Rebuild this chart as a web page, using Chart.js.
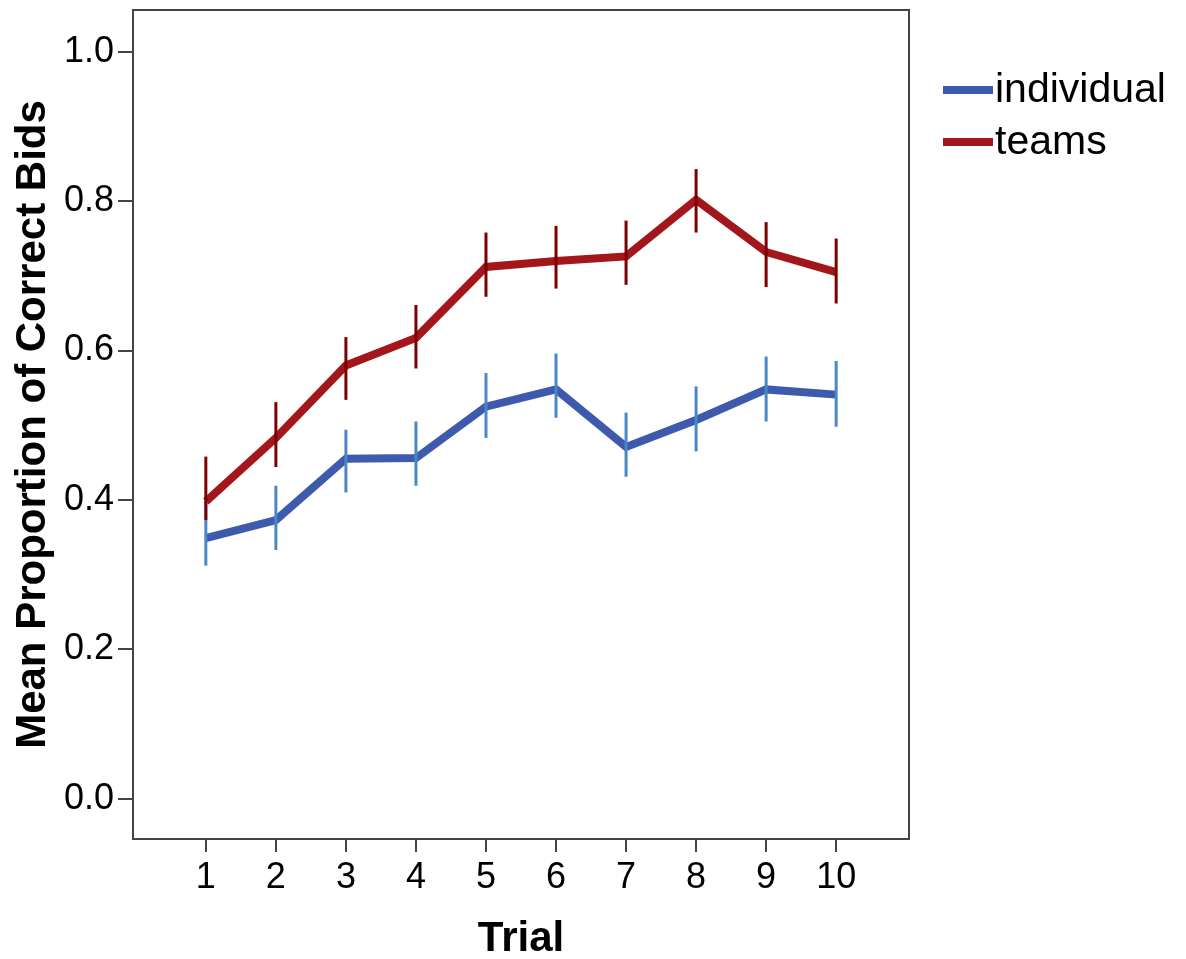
<!DOCTYPE html>
<html lang="en">
<head>
    <meta charset="UTF-8">
    <title>Mean Proportion of Correct Bids by Trial</title>
    <script src="https://cdn.jsdelivr.net/npm/chart.js"></script>
    <style>
        body {
            margin: 0;
            padding: 0;
            background-color: #ffffff;
        }
        #wrap {
            width: 1186px;
            height: 959px;
        }
    </style>
</head>
<body>
    <div id="wrap">
        <canvas id="bidsChart" width="1186" height="959"></canvas>
    </div>

    <script>
        // Data
        const trials = [1, 2, 3, 4, 5, 6, 7, 8, 9, 10];
        const yTicks = [0.0, 0.2, 0.4, 0.6, 0.8, 1.0];

        const individualMean = [0.349, 0.373, 0.455, 0.456, 0.525, 0.548, 0.471, 0.507, 0.548, 0.541];
        const individualLow  = [0.312, 0.333, 0.410, 0.419, 0.483, 0.510, 0.431, 0.465, 0.505, 0.498];
        const individualHigh = [0.398, 0.419, 0.494, 0.505, 0.570, 0.596, 0.517, 0.552, 0.592, 0.586];

        const teamsMean = [0.398, 0.483, 0.580, 0.617, 0.712, 0.720, 0.726, 0.802, 0.732, 0.705];
        const teamsLow  = [0.373, 0.444, 0.534, 0.576, 0.672, 0.683, 0.688, 0.758, 0.685, 0.663];
        const teamsHigh = [0.458, 0.531, 0.618, 0.661, 0.758, 0.767, 0.774, 0.843, 0.772, 0.750];

        const FONT = "'Liberation Sans', Arial, sans-serif";

        // error bars drawn on top of the lines
        const errorBars = {
            id: 'errorBars',
            afterDatasetsDraw(chart) {
                const ctx = chart.ctx;
                const xs = chart.scales.x;
                const ys = chart.scales.y;
                chart.data.datasets.forEach(ds => {
                    ctx.save();
                    ctx.strokeStyle = ds.errorColor;
                    ctx.lineWidth = 3;
                    trials.forEach((t, i) => {
                        const x = xs.getPixelForValue(t);
                        ctx.beginPath();
                        ctx.moveTo(x, ys.getPixelForValue(ds.low[i]));
                        ctx.lineTo(x, ys.getPixelForValue(ds.high[i]));
                        ctx.stroke();
                    });
                    ctx.restore();
                });
            }
        };

        // box round the plot area
        const frame = {
            id: 'frame',
            afterDraw(chart) {
                const a = chart.chartArea;
                const ctx = chart.ctx;
                ctx.save();
                ctx.strokeStyle = '#444444';
                ctx.lineWidth = 2;
                ctx.strokeRect(a.left, a.top, a.right - a.left, a.bottom - a.top);
                ctx.restore();
            }
        };

        // legend to the right of the plot
        const sideLegend = {
            id: 'sideLegend',
            afterDraw(chart) {
                const ctx = chart.ctx;
                const a = chart.chartArea;
                ctx.save();
                ctx.font = '41px ' + FONT;
                ctx.textBaseline = 'middle';
                chart.data.datasets.forEach((ds, i) => {
                    const y = 90 + i * 52;
                    const x0 = a.right + 34;
                    ctx.fillStyle = ds.borderColor;
                    ctx.fillRect(x0, y - 4, 50, 8);
                    ctx.fillStyle = '#000000';
                    ctx.fillText(ds.label, x0 + 52, y + 1);
                });
                ctx.restore();
            }
        };

        const ctx = document.getElementById('bidsChart').getContext('2d');
        new Chart(ctx, {
            type: 'line',
            data: {
                datasets: [
                    {
                        label: 'individual',
                        data: trials.map((t, i) => ({ x: t, y: individualMean[i] })),
                        low: individualLow,
                        high: individualHigh,
                        borderColor: '#3e5aad',
                        errorColor: '#4a87c6',
                        borderWidth: 8,
                        pointRadius: 0,
                        tension: 0
                    },
                    {
                        label: 'teams',
                        data: trials.map((t, i) => ({ x: t, y: teamsMean[i] })),
                        low: teamsLow,
                        high: teamsHigh,
                        borderColor: '#a3161b',
                        errorColor: '#7d0000',
                        borderWidth: 8,
                        pointRadius: 0,
                        tension: 0
                    }
                ]
            },
            options: {
                responsive: false,
                animation: false,
                devicePixelRatio: 1,
                layout: {
                    padding: { top: 10, right: 277, left: 0, bottom: 0 }
                },
                plugins: {
                    legend: { display: false },
                    tooltip: { enabled: false }
                },
                scales: {
                    x: {
                        type: 'linear',
                        min: -0.04,
                        max: 11.04,
                        afterBuildTicks: scale => { scale.ticks = trials.map(v => ({ value: v })); },
                        afterFit: scale => {
                            scale.height = 120;
                            scale.paddingLeft = 0;
                            scale.paddingRight = 0;
                        },
                        grid: {
                            drawOnChartArea: false,
                            drawTicks: true,
                            tickLength: 13,
                            color: '#444444',
                            lineWidth: 2
                        },
                        border: { display: false },
                        ticks: {
                            color: '#000000',
                            font: { family: FONT, size: 36 },
                            padding: 4,
                            maxRotation: 0,
                            callback: v => String(v)
                        },
                        title: {
                            display: true,
                            text: 'Trial',
                            color: '#000000',
                            font: { family: FONT, size: 42, weight: 'bold' },
                            padding: { top: 14, bottom: -6 }
                        }
                    },
                    y: {
                        min: -0.054,
                        max: 1.056,
                        afterBuildTicks: scale => { scale.ticks = yTicks.map(v => ({ value: v })); },
                        afterFit: scale => {
                            scale.width = 133;
                            scale.paddingTop = 0;
                            scale.paddingBottom = 0;
                        },
                        grid: {
                            drawOnChartArea: false,
                            drawTicks: true,
                            tickLength: 15,
                            color: '#444444',
                            lineWidth: 2
                        },
                        border: { display: false },
                        ticks: {
                            color: '#000000',
                            font: { family: FONT, size: 36 },
                            padding: 4,
                            callback: v => v.toFixed(1)
                        },
                        title: {
                            display: true,
                            text: 'Mean Proportion of Correct Bids',
                            color: '#000000',
                            font: { family: FONT, size: 42, weight: 'bold' },
                            padding: { top: 8, bottom: 4 }
                        }
                    }
                }
            },
            plugins: [errorBars, frame, sideLegend]
        });
    </script>
</body>
</html>
